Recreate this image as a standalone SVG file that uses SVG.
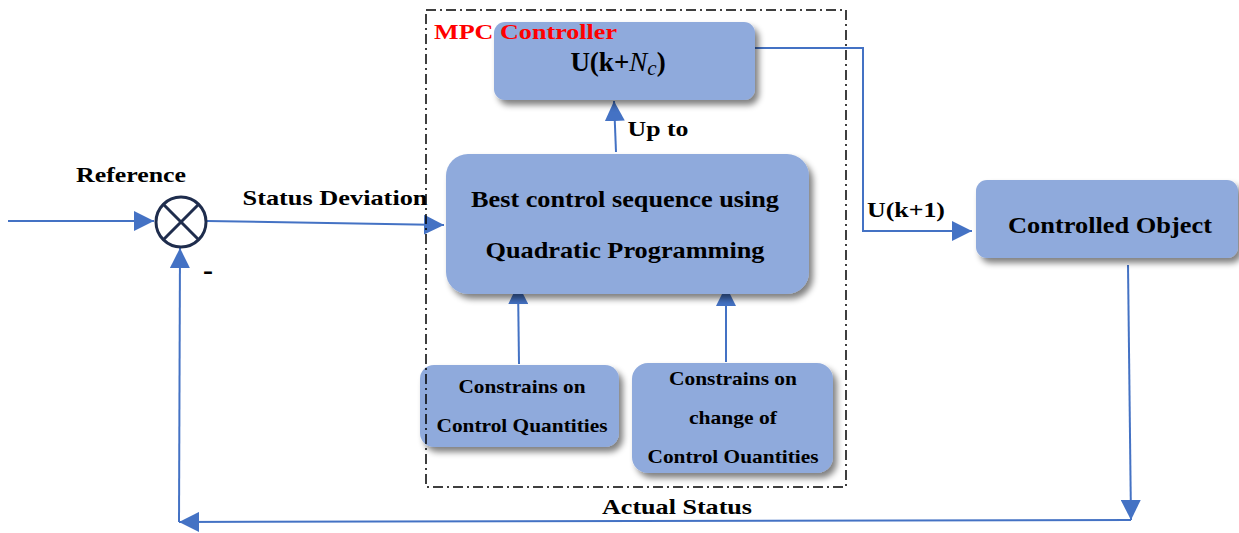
<svg xmlns="http://www.w3.org/2000/svg" width="1239" height="533" viewBox="0 0 1239 533">
  <defs>
    <filter id="shadow" x="-10%" y="-10%" width="130%" height="140%">
      <feGaussianBlur in="SourceAlpha" stdDeviation="3"/>
      <feOffset dx="4" dy="5" result="blur"/>
      <feComponentTransfer><feFuncA type="linear" slope="0.5"/></feComponentTransfer>
      <feMerge><feMergeNode/><feMergeNode in="SourceGraphic"/></feMerge>
    </filter>
    <marker id="arrowL" viewBox="0 0 10 10" refX="10" refY="5" markerWidth="10" markerHeight="10" orient="auto">
      <path d="M0,0 L10,5 L0,10 z" fill="#4472c4"/>
    </marker>
  </defs>
  <style>
    .box { fill: #8faadc; filter: url(#shadow); }
    .t { font-weight: bold; fill: #000; text-anchor: middle; }
    .line { fill: none; stroke: #4472c4; stroke-width: 2; }
    .frame { fill: none; stroke: #000; stroke-width: 1.5; stroke-dasharray: 10 4 2 4; }
  </style>
  <rect width="1239" height="533" fill="#fff"/>

  <g id="connectors">
    <!-- reference input -->
    <line class="line" x1="8" y1="221" x2="154" y2="221" marker-end="url(#arrowL)"/>
    <!-- status deviation -->
    <line class="line" x1="207" y1="221" x2="444" y2="225" marker-end="url(#arrowL)"/>
    <!-- up to -->
    <line class="line" x1="616" y1="152" x2="614" y2="101" marker-end="url(#arrowL)"/>
    <!-- constraints into QP -->
    <line class="line" x1="519" y1="364" x2="518" y2="284" marker-end="url(#arrowL)"/>
    <line class="line" x1="726" y1="362" x2="726" y2="286" marker-end="url(#arrowL)"/>
    <!-- output to plant -->
    <polyline class="line" points="755,48 863,48 863,231 972,231" marker-end="url(#arrowL)"/>
    <!-- feedback -->
    <line class="line" x1="1128" y1="265" x2="1131" y2="520" marker-end="url(#arrowL)"/>
    <line class="line" x1="1131" y1="520" x2="179" y2="522" marker-end="url(#arrowL)"/>
    <line class="line" x1="179" y1="522" x2="180" y2="248" marker-end="url(#arrowL)"/>
  </g>

  <g id="sum-junction">
    <circle cx="181" cy="222" r="25" fill="#fff" stroke="#1f2d4d" stroke-width="3"/>
    <line x1="163.3" y1="204.3" x2="198.7" y2="239.7" stroke="#1f2d4d" stroke-width="3"/>
    <line x1="198.7" y1="204.3" x2="163.3" y2="239.7" stroke="#1f2d4d" stroke-width="3"/>
  </g>

  <g id="labels" font-family="Liberation Serif, Times New Roman, serif">
    <text class="t" x="131" y="182" font-size="22" textLength="110" lengthAdjust="spacingAndGlyphs">Reference</text>
    <text class="t" x="335" y="205" font-size="22" textLength="185" lengthAdjust="spacingAndGlyphs">Status Deviation</text>
    <text class="t" x="208" y="280" font-size="30">-</text>
    <text class="t" x="658" y="136" font-size="22" textLength="61" lengthAdjust="spacingAndGlyphs">Up to</text>
    <text class="t" x="906" y="217" font-size="21" textLength="78" lengthAdjust="spacingAndGlyphs">U(k+1)</text>
    <text class="t" x="677" y="514" font-size="22" textLength="150" lengthAdjust="spacingAndGlyphs">Actual Status</text>
  </g>

  <g id="node-horizon" font-family="Liberation Serif, Times New Roman, serif">
    <rect class="box" x="494" y="22" width="261" height="78" rx="11"/>
    <text class="t" x="618" y="71" font-size="27">U(k+<tspan font-weight="normal" font-style="italic">N</tspan><tspan font-weight="normal" font-style="italic" font-size="21" dy="4">c</tspan><tspan dy="-4">)</tspan></text>
  </g>

  <g id="node-qp" font-family="Liberation Serif, Times New Roman, serif">
    <rect class="box" x="446" y="154" width="363" height="140" rx="22"/>
    <text class="t" x="625" y="207" font-size="23" textLength="308" lengthAdjust="spacingAndGlyphs">Best control sequence using</text>
    <text class="t" x="625" y="258" font-size="23" textLength="279" lengthAdjust="spacingAndGlyphs">Quadratic Programming</text>
  </g>

  <g id="node-constraint-u" font-family="Liberation Serif, Times New Roman, serif">
    <rect class="box" x="420" y="365" width="199" height="82" rx="14"/>
    <text class="t" x="522" y="393" font-size="19" textLength="127" lengthAdjust="spacingAndGlyphs">Constrains on</text>
    <text class="t" x="522" y="432" font-size="19" textLength="171" lengthAdjust="spacingAndGlyphs">Control Quantities</text>
  </g>

  <g id="node-constraint-du" font-family="Liberation Serif, Times New Roman, serif">
    <rect class="box" x="632" y="363" width="201" height="110" rx="16"/>
    <text class="t" x="733" y="385" font-size="19" textLength="128" lengthAdjust="spacingAndGlyphs">Constrains on</text>
    <text class="t" x="733" y="424" font-size="19" textLength="88" lengthAdjust="spacingAndGlyphs">change of</text>
    <text class="t" x="733" y="463" font-size="19" textLength="171" lengthAdjust="spacingAndGlyphs">Control Ouantities</text>
  </g>

  <g id="node-plant" font-family="Liberation Serif, Times New Roman, serif">
    <rect class="box" x="976" y="180" width="262" height="78" rx="11"/>
    <text class="t" x="1110" y="233" font-size="23" textLength="204" lengthAdjust="spacingAndGlyphs">Controlled Object</text>
  </g>

  <!-- controller boundary, drawn over the inner blocks -->
  <g id="mpc-frame" font-family="Liberation Serif, Times New Roman, serif">
    <rect class="frame" x="426" y="10" width="420" height="477"/>
    <text x="434" y="39" font-weight="bold" font-size="21" fill="#ff0000" textLength="183" lengthAdjust="spacingAndGlyphs">MPC Controller</text>
  </g>
</svg>
